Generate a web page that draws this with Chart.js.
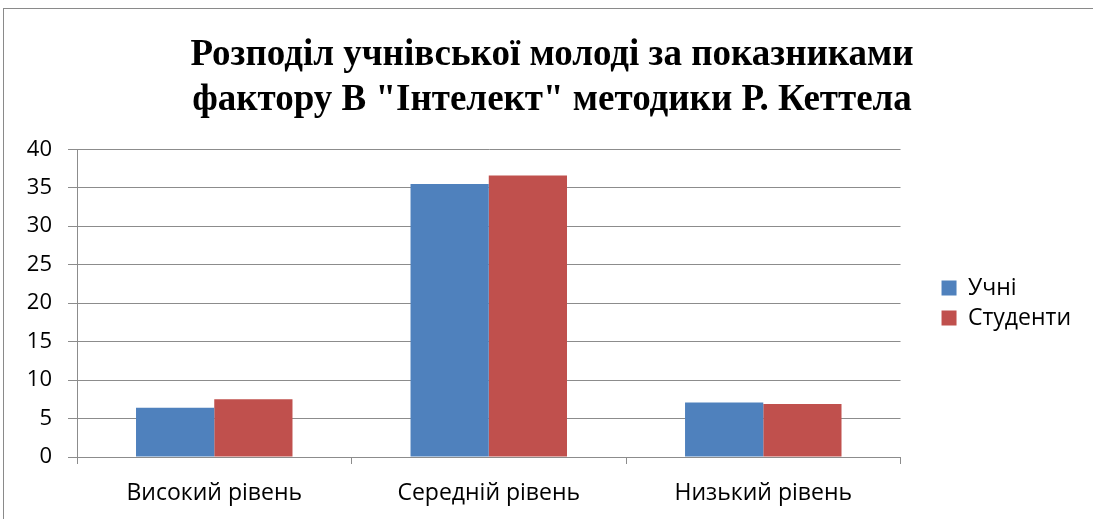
<!DOCTYPE html>
<html>
<head>
<meta charset="utf-8">
<script src="https://cdn.jsdelivr.net/npm/chart.js@4.4.1/dist/chart.umd.min.js"></script>
<style>
  html, body { margin: 0; padding: 0; background: #fff; }
  #rama { position: absolute; left: 3px; top: 8px; width: 1200px; height: 600px;
          border-left: 1px solid #8a8a8a; border-top: 1px solid #8a8a8a; }
  #obgortka { position: absolute; left: 0; top: 0; width: 1093px; height: 519px; }
</style>
</head>
<body>
<div id="rama"></div>
<div id="obgortka"><canvas id="grafik" width="1093" height="519"></canvas></div>
<script>
// дані з діаграми
const kategorii = ["Високий рівень", "Середній рівень", "Низький рівень"]
const uchni = [6.4, 35.5, 7.1]
const studenty = [7.5, 36.6, 6.9]
const nazva = ["Розподіл учнівської молоді за показниками", "фактору В \"Інтелект\" методики Р. Кеттела"]

const shryft = "'Open Sans', sans-serif"
const siryi = "#8c8c8c"

// легенду трохи посуваю, щоб стояла як в Excel
const zsuvLegendy = { x: -12, y: 27 }
const pluginLegenda = {
  id: 'zsuvLegendy',
  afterLayout(chart) {
    const l = chart.legend
    if (!l) return
    l.left += zsuvLegendy.x
    l.right += zsuvLegendy.x
    l.top += zsuvLegendy.y
    l.bottom += zsuvLegendy.y
  }
}

let grafik = new Chart(document.querySelector("#grafik").getContext("2d"), {
  type: 'bar',
  data: {
    labels: kategorii,
    datasets: [{
      label: 'Учні',
      data: uchni,
      backgroundColor: '#4F81BD',
      borderColor: '#4F81BD',
      borderWidth: 0
    }, {
      label: 'Студенти',
      data: studenty,
      backgroundColor: '#C0504D',
      borderColor: '#C0504D',
      borderWidth: 0
    }]
  },
  plugins: [pluginLegenda],
  options: {
    responsive: false,
    animation: false,
    categoryPercentage: 0.57,
    barPercentage: 1,
    layout: { padding: { left: 11, right: 0, top: 33, bottom: 0 } },
    plugins: {
      title: {
        display: true,
        text: nazva,
        color: '#000',
        font: { family: "'Liberation Serif', serif", size: 37, weight: 'bold', lineHeight: 1.22 },
        padding: { top: 0, bottom: 26 }
      },
      legend: {
        position: 'right',
        labels: {
          boxWidth: 15,
          boxHeight: 15,
          padding: 7,
          color: '#000',
          font: { family: shryft, size: 23 }
        }
      },
      tooltip: { enabled: false }
    },
    scales: {
      x: {
        grid: { display: true, drawOnChartArea: false, drawTicks: true, tickLength: 7, color: siryi, offset: true },
        border: { color: siryi, width: 1 },
        ticks: { color: '#000', font: { family: shryft, size: 23 }, padding: 16 },
        afterFit(scale) { scale.height = 62 }
      },
      y: {
        min: 0,
        max: 40,
        ticks: { stepSize: 5, color: '#000', font: { family: shryft, size: 22 }, padding: 16 },
        grid: { color: siryi, tickLength: 9 },
        border: { color: siryi, width: 1 },
        afterFit(scale) { scale.width = 66 }
      },
      // порожня вісь справа - просто відступ між графіком і легендою
      vidstup: {
        position: 'right',
        display: true,
        grid: { display: false },
        border: { display: false },
        ticks: { display: false },
        afterFit(scale) { scale.width = 46 }
      }
    }
  }
})
</script>
</body>
</html>
